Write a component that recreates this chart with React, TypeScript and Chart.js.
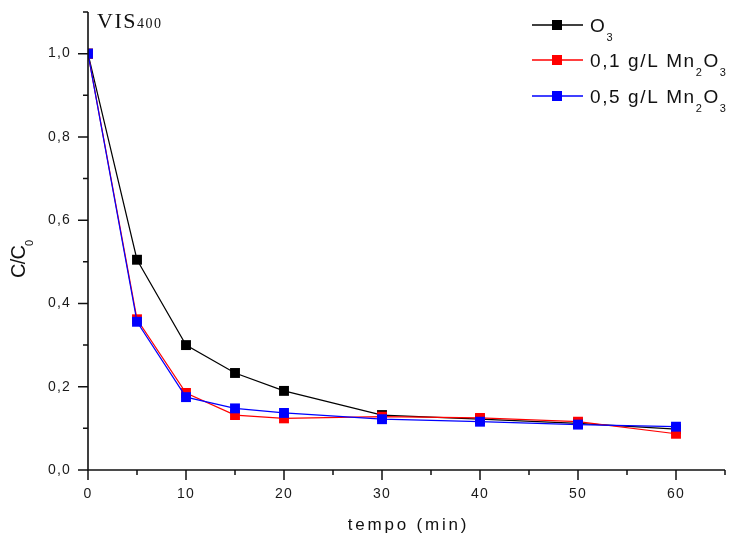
import React, { useEffect, useRef } from 'react';
import { Chart, registerables } from 'chart.js';

Chart.register(...registerables);

// ---- data ----
const tempo = [0, 5, 10, 15, 20, 30, 40, 50, 60];
const serieO3 = [1.0, 0.505, 0.3, 0.233, 0.19, 0.132, 0.122, 0.112, 0.098];
const serieMn01 = [1.0, 0.362, 0.185, 0.132, 0.124, 0.128, 0.125, 0.116, 0.087];
const serieMn05 = [1.0, 0.356, 0.175, 0.148, 0.137, 0.122, 0.116, 0.109, 0.104];

const xTickValues = [0, 5, 10, 15, 20, 25, 30, 35, 40, 45, 50, 55, 60, 65];
const xMajorTicks = [0, 10, 20, 30, 40, 50, 60];
const yTickValues = [0, 0.1, 0.2, 0.3, 0.4, 0.5, 0.6, 0.7, 0.8, 0.9, 1.0, 1.1];
const yMajorTicks = [0, 0.2, 0.4, 0.6, 0.8, 1.0];

const seriesColors = ['#000000', '#ff0000', '#0000ff'];
type Part = [string, boolean];
const legendLabels: Part[][] = [
  [['O', false], ['3', true]],
  [['0,1 g/L Mn', false], ['2', true], ['O', false], ['3', true]],
  [['0,5 g/L Mn', false], ['2', true], ['O', false], ['3', true]],
];
const xTitle = 'tempo (min)';
const yTitle: Part[] = [['C/C', false], ['0', true]];
const panelLabel = 'VIS';
const panelSub = '400';

const SANS = '"Liberation Sans", Arial, sans-serif';
const SERIF = '"Liberation Serif", "Times New Roman", serif';

const isMajor = (v: number, list: number[]) => list.some((m) => Math.abs(m - v) < 1e-6);

function drawRich(
  ctx: CanvasRenderingContext2D,
  parts: Part[],
  x: number,
  y: number,
  mainFont: string,
  subFont: string,
  subDy: number,
  ls: number
) {
  let cx = x;
  for (const [t, sub] of parts) {
    ctx.font = sub ? subFont : mainFont;
    (ctx as any).letterSpacing = ls + 'px';
    ctx.fillText(t, cx, y + (sub ? subDy : 0));
    cx += ctx.measureText(t).width;
  }
}

const spacingPlugin = {
  id: 'spacing',
  beforeDraw(chart: any) {
    chart.ctx.letterSpacing = '1.2px';
  },
};

const zeroPad = (s: any) => {
  s.paddingTop = 0;
  s.paddingBottom = 0;
  s.paddingLeft = 0;
  s.paddingRight = 0;
};

const decorPlugin = {
  id: 'decor',
  afterDraw(chart: any) {
    const ctx: CanvasRenderingContext2D = chart.ctx;
    const { left, right, top, bottom } = chart.chartArea;
    const xs = chart.scales.x;
    const ys = chart.scales.y;
    ctx.save();
    (ctx as any).letterSpacing = '0px';
    // axes
    ctx.strokeStyle = '#111';
    ctx.lineWidth = 1.6;
    ctx.beginPath();
    ctx.moveTo(left, top);
    ctx.lineTo(left, bottom);
    ctx.lineTo(right, bottom);
    ctx.stroke();
    // ticks
    ctx.lineWidth = 1.5;
    ctx.beginPath();
    for (const v of xTickValues) {
      const px = xs.getPixelForValue(v);
      const len = isMajor(v, xMajorTicks) ? 10 : 5;
      ctx.moveTo(px, bottom);
      ctx.lineTo(px, bottom + len);
    }
    for (const v of yTickValues) {
      const py = ys.getPixelForValue(v);
      const len = isMajor(v, yMajorTicks) ? 10 : 5;
      ctx.moveTo(left, py);
      ctx.lineTo(left - len, py);
    }
    ctx.stroke();

    // legend
    const rowY = [25, 60, 96];
    for (let i = 0; i < 3; i++) {
      const y = rowY[i];
      ctx.strokeStyle = seriesColors[i];
      ctx.lineWidth = 1.3;
      ctx.beginPath();
      ctx.moveTo(532, y);
      ctx.lineTo(583, y);
      ctx.stroke();
      ctx.fillStyle = seriesColors[i];
      ctx.fillRect(552, y - 5, 10, 10);
      ctx.fillStyle = '#111';
      ctx.textBaseline = 'alphabetic';
      ctx.textAlign = 'left';
      drawRich(ctx, legendLabels[i], 590, y + 7, '19px ' + SANS, '11px ' + SANS, 9, 1.6);
    }

    // panel label
    ctx.fillStyle = '#111';
    ctx.font = '22px ' + SERIF;
    (ctx as any).letterSpacing = '1.5px';
    ctx.fillText(panelLabel, 97, 28);
    const w = ctx.measureText(panelLabel).width;
    ctx.font = '14px ' + SERIF;
    (ctx as any).letterSpacing = '1.5px';
    ctx.fillText(panelSub, 97 + w, 28);

    // x title
    ctx.font = '17px ' + SANS;
    (ctx as any).letterSpacing = '2.8px';
    ctx.textAlign = 'center';
    ctx.fillText(xTitle, (left + right) / 2 + 2, 530);

    // y title
    ctx.textAlign = 'left';
    ctx.translate(25, 278);
    ctx.rotate(-Math.PI / 2);
    drawRich(ctx, yTitle, 0, 0, '20px ' + SANS, '11px ' + SANS, 8, -0.8);
    ctx.restore();
  },
};

export default function App() {
  const ref = useRef<HTMLCanvasElement | null>(null);
  useEffect(() => {
    if (!ref.current) return;
    const mk = (label: string, data: number[], color: string, order: number) => ({
      label,
      data: tempo.map((t, i) => ({ x: t, y: data[i] })),
      borderColor: color,
      backgroundColor: color,
      borderWidth: 1.2,
      pointStyle: 'rect' as const,
      pointRadius: 7,
      pointBorderWidth: 0,
      pointBackgroundColor: color,
      tension: 0,
      order,
    });
    const chart = new Chart(ref.current, {
      type: 'line',
      data: {
        datasets: [
          mk('O3', serieO3, seriesColors[0], 2),
          mk('0,1 g/L Mn2O3', serieMn01, seriesColors[1], 1),
          mk('0,5 g/L Mn2O3', serieMn05, seriesColors[2], 0),
        ],
      },
      options: {
        animation: false,
        responsive: false,
        maintainAspectRatio: false,
        layout: { padding: { top: 12, right: 10, left: 0, bottom: 0 } },
        plugins: { legend: { display: false }, tooltip: { enabled: false } },
        scales: {
          x: {
            type: 'linear',
            min: 0,
            max: 65,
            afterBuildTicks: (s: any) => {
              s.ticks = xTickValues.map((v) => ({ value: v }));
            },
            afterFit: (s: any) => {
              s.height = 67;
              zeroPad(s);
            },
            grid: { display: false, drawTicks: false },
            border: { display: false },
            ticks: {
              autoSkip: false,
              maxRotation: 0,
              padding: 16,
              color: '#1a1a1a',
              font: { family: SANS, size: 14 },
              callback: (v: any) => (isMajor(Number(v), xMajorTicks) ? String(Math.round(Number(v))) : ''),
            },
          },
          y: {
            type: 'linear',
            min: 0,
            max: 1.1,
            afterBuildTicks: (s: any) => {
              s.ticks = yTickValues.map((v) => ({ value: v }));
            },
            afterFit: (s: any) => {
              s.width = 88;
              zeroPad(s);
            },
            grid: { display: false, drawTicks: false },
            border: { display: false },
            ticks: {
              autoSkip: false,
              padding: 17,
              color: '#1a1a1a',
              font: { family: SANS, size: 14 },
              callback: (v: any) =>
                isMajor(Number(v), yMajorTicks) ? Number(v).toFixed(1).replace('.', ',') : '',
            },
          },
        },
      },
      plugins: [spacingPlugin, decorPlugin],
    });
    return () => chart.destroy();
  }, []);
  return (
    <div style={{ position: 'absolute', left: 0, top: 0, width: 735, height: 537, background: '#fff' }}>
      <canvas ref={ref} width={735} height={537} style={{ display: 'block' }} />
    </div>
  );
}
